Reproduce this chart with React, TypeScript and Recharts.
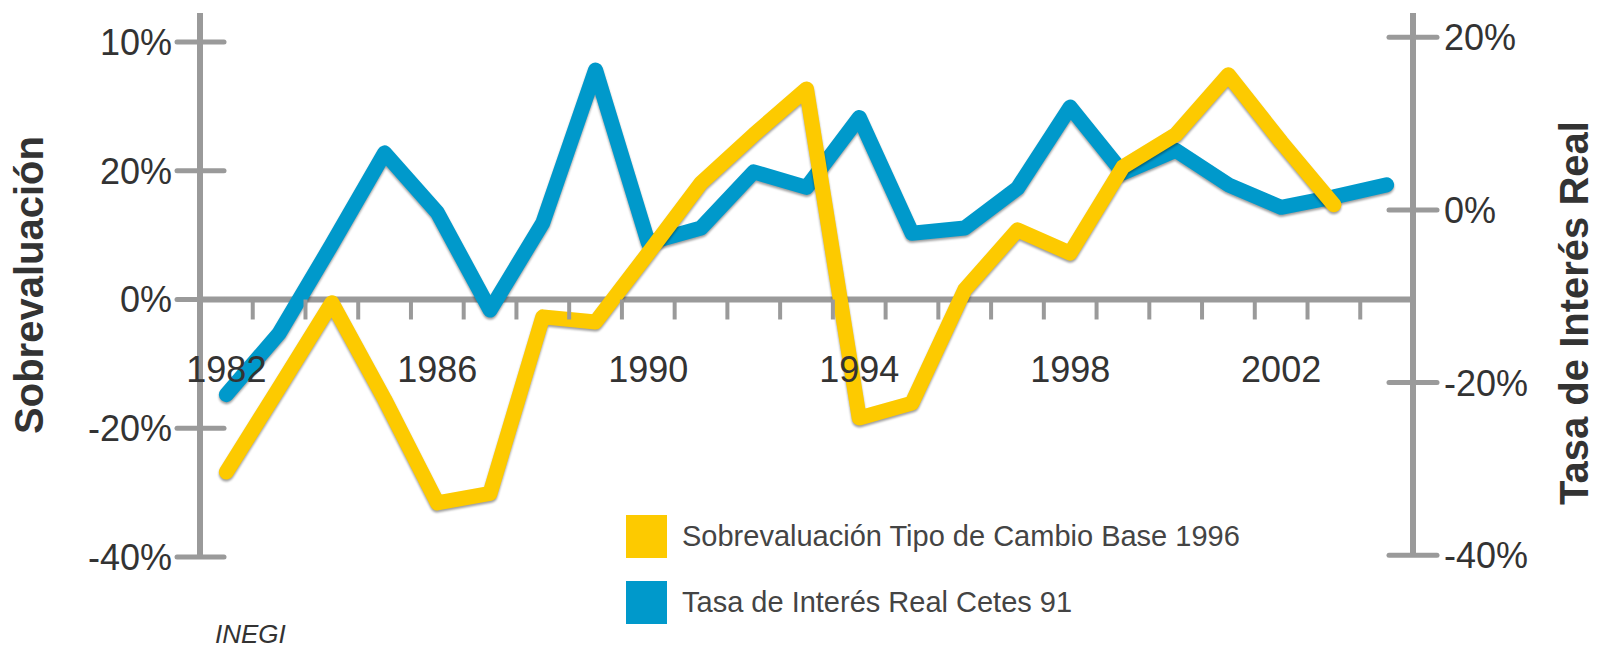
import { LineChart, Line, XAxis, YAxis, ReferenceLine, Legend } from 'recharts';

const years = [
  1982, 1983, 1984, 1985, 1986, 1987, 1988, 1989, 1990, 1991, 1992, 1993,
  1994, 1995, 1996, 1997, 1998, 1999, 2000, 2001, 2002, 2003, 2004,
];
// Sobrevaluación Tipo de Cambio Base 1996 (left axis, %)
const sobrevaluacion = [
  -26.8, -13.7, -0.5, -15.5, -31.6, -30.1, -2.7, -3.5, 7.2, 18.1, 25.6, 32.7,
  -18.4, -16.1, 1.5, 10.8, 7.2, 20.6, 25.6, 34.9, 24.5, 14.7, null,
];
// Tasa de Interés Real Cetes 91 (right axis, %)
const tasaReal = [
  -21.4, -14.3, -4.0, 6.6, -0.3, -11.6, -1.5, 16.2, -3.8, -2.1, 4.4, 2.6,
  10.7, -2.7, -2.1, 2.5, 11.9, 4.3, 6.9, 2.9, 0.3, 1.5, 2.9,
];
const yearLabels = [1982, 1986, 1990, 1994, 1998, 2002];
const leftTicks = [-40, -20, 0, 20, 40];
const leftTickLabels = ['-40%', '-20%', '0%', '20%', '10%'];
const rightTicks = [-40, -20, 0, 20];
const rightTickLabels = ['-40%', '-20%', '0%', '20%'];

const SERIES_YELLOW = 'Sobrevaluación Tipo de Cambio Base 1996';
const SERIES_BLUE = 'Tasa de Interés Real Cetes 91';

const YELLOW = '#fdca00';
const BLUE = '#0099cb';
const AXIS = '#9a9a9a';
const TEXT = '#333333';
const FONT = '"Liberation Sans", Arial, Helvetica, sans-serif';

const TOP = 13;
const PLOT_BOTTOM = 557;
const LEFT_DOMAIN = [-40, 44.5];
const RIGHT_DOMAIN = [-40.2, 22.8];
const ZERO_Y =
  TOP + ((PLOT_BOTTOM - TOP) * LEFT_DOMAIN[1]) / (LEFT_DOMAIN[1] - LEFT_DOMAIN[0]);

const data = years.map((year, i) => ({
  year,
  sobre: sobrevaluacion[i],
  tasa: tasaReal[i],
}));

// tick marks sit between years, labels every 4 years
const xTicks = [...years.map(y => y - 0.5), ...yearLabels];

const XTick = (props: any) => {
  const { x, payload } = props;
  const v = payload.value;
  if (Number.isInteger(v)) {
    return (
      <text x={x} y={ZERO_Y + 83} textAnchor="middle" fontSize={36} fill={TEXT} fontFamily={FONT}>
        {v}
      </text>
    );
  }
  return <line x1={x} x2={x} y1={ZERO_Y} y2={ZERO_Y + 20} stroke={AXIS} strokeWidth={4} />;
};

const LeftTick = (props: any) => {
  const { x, y, payload } = props;
  return (
    <g>
      <line x1={x - 23} x2={x + 24} y1={y} y2={y} stroke={AXIS} strokeWidth={5} strokeLinecap="round" />
      <text x={x - 28} y={y + 13} textAnchor="end" fontSize={36} fill={TEXT} fontFamily={FONT}>
        {leftTickLabels[leftTicks.indexOf(payload.value)]}
      </text>
    </g>
  );
};

const RightTick = (props: any) => {
  const { x, y, payload } = props;
  return (
    <g>
      <line x1={x - 24} x2={x + 24} y1={y} y2={y} stroke={AXIS} strokeWidth={5} strokeLinecap="round" />
      <text x={x + 31} y={y + 13} textAnchor="start" fontSize={36} fill={TEXT} fontFamily={FONT}>
        {rightTickLabels[rightTicks.indexOf(payload.value)]}
      </text>
    </g>
  );
};

const renderLegend = ({ payload }: any) => {
  const items = [SERIES_YELLOW, SERIES_BLUE]
    .map(name => (payload || []).find((p: any) => p.value === name))
    .filter(Boolean);
  return (
    <div style={{ fontFamily: FONT }}>
      {items.map((item: any) => (
        <div key={item.value} style={{ display: 'flex', alignItems: 'center', height: 43, marginBottom: 23 }}>
          <div style={{ width: 41, height: 43, background: item.color, marginRight: 15 }} />
          <span style={{ fontSize: 29, color: '#444', whiteSpace: 'nowrap' }}>{item.value}</span>
        </div>
      ))}
    </div>
  );
};

// bevelled look of the original lines: dark lower edge
const lineCss = `
  .recharts-line-curve { filter: drop-shadow(0px 2px 1px rgba(0,0,0,0.38)); }
`;

export default function App() {
  return (
    <div style={{ position: 'absolute', left: 0, top: 0, width: 1601, height: 647, background: '#fff', fontFamily: FONT }}>
      <style>{lineCss}</style>
      <LineChart width={1601} height={647} data={data} margin={{ top: TOP, right: 0, bottom: 0, left: 0 }}>
        <XAxis
          dataKey="year"
          type="number"
          domain={[1981.5, 2004.5]}
          ticks={xTicks}
          interval={0}
          axisLine={false}
          tickLine={false}
          tick={<XTick />}
          height={90}
          allowDataOverflow
        />
        <YAxis
          yAxisId="left"
          orientation="left"
          width={200}
          domain={LEFT_DOMAIN}
          ticks={leftTicks}
          interval={0}
          tickSize={0}
          tickMargin={0}
          tickLine={false}
          axisLine={{ stroke: AXIS, strokeWidth: 6 }}
          tick={<LeftTick />}
          allowDataOverflow
        />
        <YAxis
          yAxisId="right"
          orientation="right"
          width={188}
          domain={RIGHT_DOMAIN}
          ticks={rightTicks}
          interval={0}
          tickSize={0}
          tickMargin={0}
          tickLine={false}
          axisLine={{ stroke: AXIS, strokeWidth: 6 }}
          tick={<RightTick />}
          allowDataOverflow
        />
        <ReferenceLine y={0} yAxisId="left" stroke={AXIS} strokeWidth={6} />
        <Line
          yAxisId="right"
          dataKey="tasa"
          name={SERIES_BLUE}
          stroke={BLUE}
          strokeWidth={15}
          strokeLinejoin="round"
          strokeLinecap="round"
          dot={false}
          activeDot={false}
          isAnimationActive={false}
        />
        <Line
          yAxisId="left"
          dataKey="sobre"
          name={SERIES_YELLOW}
          stroke={YELLOW}
          strokeWidth={15}
          strokeLinejoin="round"
          strokeLinecap="round"
          dot={false}
          activeDot={false}
          isAnimationActive={false}
        />
        <Legend
          layout="horizontal"
          verticalAlign="middle"
          align="center"
          content={renderLegend}
          wrapperStyle={{ left: 626, top: 515, width: 700, bottom: 'auto', right: 'auto' }}
        />
      </LineChart>
      <div
        style={{
          position: 'absolute', left: 29, top: 285, transform: 'translate(-50%, -50%) rotate(-90deg)',
          fontSize: 40, fontWeight: 'bold', color: TEXT, whiteSpace: 'nowrap',
        }}
      >
        Sobrevaluación
      </div>
      <div
        style={{
          position: 'absolute', left: 1574, top: 313, transform: 'translate(-50%, -50%) rotate(-90deg)',
          fontSize: 40, fontWeight: 'bold', color: TEXT, whiteSpace: 'nowrap',
        }}
      >
        Tasa de Interés Real
      </div>
      <div style={{ position: 'absolute', left: 215, top: 619, fontSize: 26, fontStyle: 'italic', color: TEXT }}>
        INEGI
      </div>
    </div>
  );
}
